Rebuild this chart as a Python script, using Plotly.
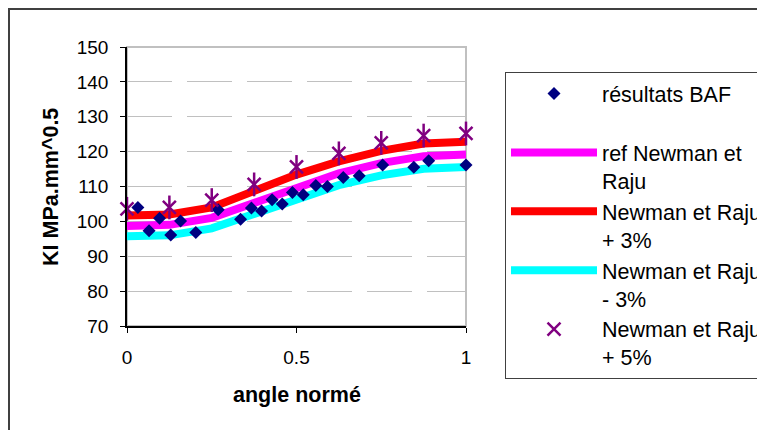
import plotly.graph_objects as go

# ---- data ----
baf_x = [0.032, 0.065, 0.096, 0.129, 0.158, 0.203, 0.269, 0.335, 0.367, 0.397, 0.428,
         0.458, 0.488, 0.520, 0.557, 0.591, 0.638, 0.685, 0.754, 0.846, 0.890, 1.0]
baf_y = [104.0, 97.3, 100.9, 96.1, 100.1, 96.8, 103.3, 100.6, 103.8, 103.0, 106.2,
         105.0, 108.3, 107.6, 110.3, 110.0, 112.6, 113.1, 116.2, 115.5, 117.4, 116.2]

nr_x = [0, 0.125, 0.25, 0.375, 0.5, 0.625, 0.75, 0.875, 1.0]
ref_y = [98.7, 99.0, 101.0, 105.3, 110.1, 113.8, 116.7, 118.7, 119.2]
plus3_y = [101.7, 102.0, 104.0, 108.5, 113.4, 117.2, 120.2, 122.3, 122.8]
minus3_y = [95.7, 96.0, 98.0, 102.1, 106.8, 110.4, 113.2, 115.1, 115.6]
plus5_y = [103.6, 104.0, 106.1, 110.6, 115.6, 119.5, 122.5, 124.6, 125.2]

names = ["résultats BAF<br> ", "ref Newman et<br>Raju", "Newman et Raju<br>+ 3%",
         "Newman et Raju<br>- 3%", "Newman et Raju<br>+ 5%"]
x_ticks = [0, 0.5, 1]
y_ticks = [70, 80, 90, 100, 110, 120, 130, 140, 150]

FONT = "Liberation Sans, Arial, sans-serif"
PURPLE = "#800080"

fig = go.Figure()
fig.add_trace(go.Scatter(x=nr_x, y=ref_y, mode="lines", name=names[1], legendrank=2,
                         line=dict(color="#FF00FF", width=8)))
fig.add_trace(go.Scatter(x=nr_x, y=plus3_y, mode="lines", name=names[2], legendrank=3,
                         line=dict(color="#FF0000", width=8)))
fig.add_trace(go.Scatter(x=nr_x, y=minus3_y, mode="lines", name=names[3], legendrank=4,
                         line=dict(color="#00FFFF", width=8)))
fig.add_trace(go.Scatter(x=baf_x, y=baf_y, mode="markers", name=names[0], legendrank=1,
                         marker=dict(symbol="diamond", size=10, color="#000080"),
                         cliponaxis=False))
fig.add_trace(go.Scatter(x=nr_x, y=plus5_y, mode="markers", name=names[4], legendrank=5,
                         marker=dict(symbol="x-thin-open", size=13, color=PURPLE,
                                     line=dict(color=PURPLE, width=2.5)),
                         cliponaxis=False))
fig.add_trace(go.Scatter(x=nr_x, y=plus5_y, mode="markers", showlegend=False,
                         marker=dict(symbol="line-ns-open", size=17, color=PURPLE,
                                     line=dict(color=PURPLE, width=2.5)),
                         cliponaxis=False))

OFF = 8  # page offset of the figure
W, H = 765, 430
# plot area in screen pixels: x 127..466, y 47..326
L, R, T, B = 127 - OFF, W - (466 - OFF), 47 - OFF, H - (326 - OFF)
pw, ph = W - L - R, H - T - B

def px(x):
    return (x - OFF - L) / pw

def py(y):
    return (H - B - (y - OFF)) / ph

fig.update_layout(
    width=W, height=H,
    margin=dict(l=L, r=R, t=T, b=B, autoexpand=False),
    paper_bgcolor="white", plot_bgcolor="white",
    font=dict(family=FONT, size=19, color="black"),
    showlegend=True,
    legend=dict(x=px(505), y=py(72), xanchor="left", yanchor="top",
                bgcolor="white", bordercolor="#404040", borderwidth=1,
                font=dict(family=FONT, size=21.5, color="black"),
                itemwidth=86, valign="top", tracegroupgap=0, maxheight=600),
    xaxis=dict(range=[0, 1], tickvals=x_ticks, ticktext=["0", "0.5", "1"],
               showgrid=False, zeroline=False, showline=True, linecolor="black",
               linewidth=1.5, ticks="outside", ticklen=5, tickcolor="black",
               ticklabelstandoff=8),
    yaxis=dict(range=[70, 150], tickvals=y_ticks, showgrid=True, gridcolor="#c0c0c0",
               griddash="45px,15px", gridwidth=1, zeroline=False, showline=True,
               linecolor="black", linewidth=1.5, ticks="outside", ticklen=5,
               tickcolor="black", ticklabelstandoff=8),
    shapes=[
        dict(type="rect", xref="paper", yref="paper", x0=0, x1=1, y0=0, y1=1,
             line=dict(color="#c0c0c0", width=2), layer="below"),
        dict(type="rect", xref="paper", yref="paper", x0=px(9), x1=px(800),
             y0=py(9), y1=py(460), line=dict(color="#404040", width=2), layer="below"),
    ],
    annotations=[
        dict(text="<b>KI MPa.mm^0.5</b>", xref="paper", yref="paper", x=px(51),
             y=py(187), xanchor="center", yanchor="middle",
             textangle=-90, showarrow=False, font=dict(family=FONT, size=21.5)),
        dict(text="<b>angle normé</b>", xref="paper", yref="paper", x=px(297),
             y=py(395), xanchor="center", yanchor="middle",
             showarrow=False, font=dict(family=FONT, size=21.5)),
    ],
)

fig.write_html("out.html")
